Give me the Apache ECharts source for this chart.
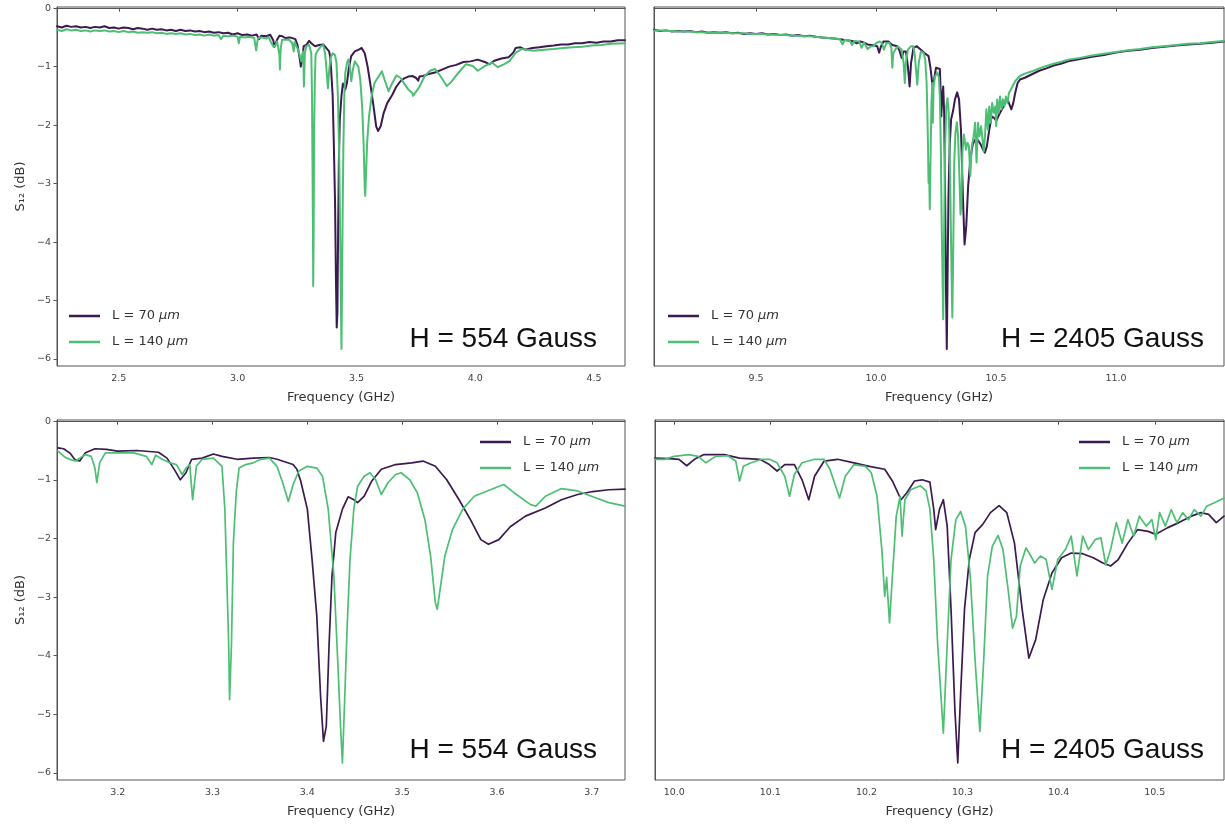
<!DOCTYPE html>
<html><head><meta charset="utf-8">
<script src="https://cdn.jsdelivr.net/npm/echarts@6/dist/echarts.min.js"></script>
<style>html,body{margin:0;padding:0;background:#fff}#c{width:1225px;height:824px}</style>
</head><body><div id="c"></div>
<script>
// ---------- labels ----------
const seriesNames = ['L = 70 μm', 'L = 140 μm'];
const fieldLabels = ['H = 554 Gauss', 'H = 2405 Gauss'];
const xAxisTitle = 'Frequency (GHz)';
const yAxisTitle = 'S₁₂ (dB)';

// ---------- tick values ----------
const yTicks = [0, -1, -2, -3, -4, -5, -6];
const xTicksTL = [2.5, 3.0, 3.5, 4.0, 4.5];
const xTicksTR = [9.5, 10.0, 10.5, 11.0];
const xTicksBL = [3.2, 3.3, 3.4, 3.5, 3.6, 3.7];
const xTicksBR = [10.0, 10.1, 10.2, 10.3, 10.4, 10.5];

// ---------- H = 554 G, zoomed region (3.136 - 3.735 GHz) ----------
const zoom554_70 = [
[3.137,-0.455],[3.143,-0.47],[3.150,-0.55],[3.155,-0.66],[3.160,-0.68],[3.166,-0.54],[3.176,-0.47],[3.188,-0.48],[3.200,-0.51],
[3.220,-0.50],[3.243,-0.53],[3.252,-0.63],[3.260,-0.83],[3.266,-1.00],[3.272,-0.88],[3.278,-0.65],[3.289,-0.63],[3.301,-0.56],
[3.310,-0.60],[3.326,-0.65],[3.343,-0.63],[3.360,-0.62],[3.368,-0.65],[3.385,-0.74],[3.389,-0.82],[3.393,-1.02],[3.400,-1.50],
[3.405,-2.36],[3.410,-3.33],[3.414,-4.70],[3.417,-5.46],[3.420,-5.20],[3.423,-3.78],[3.426,-2.64],[3.430,-1.90],[3.437,-1.50],
[3.443,-1.29],[3.449,-1.34],[3.453,-1.39],[3.460,-1.28],[3.468,-1.02],[3.478,-0.82],[3.493,-0.74],[3.510,-0.71],[3.522,-0.68],
[3.535,-0.77],[3.547,-1.00],[3.560,-1.34],[3.572,-1.68],[3.583,-2.02],[3.591,-2.10],[3.602,-2.02],[3.614,-1.80],[3.630,-1.62],
[3.651,-1.48],[3.668,-1.34],[3.685,-1.25],[3.701,-1.20],[3.718,-1.17],[3.735,-1.16]
];
const zoom554_140 = [
[3.137,-0.51],[3.145,-0.62],[3.151,-0.66],[3.156,-0.68],[3.160,-0.63],[3.166,-0.57],[3.172,-0.60],[3.176,-0.80],[3.178,-1.05],
[3.181,-0.71],[3.187,-0.54],[3.200,-0.54],[3.217,-0.54],[3.230,-0.60],[3.236,-0.74],[3.240,-0.58],[3.247,-0.65],[3.255,-0.71],
[3.262,-0.74],[3.268,-0.91],[3.272,-0.80],[3.276,-0.74],[3.279,-1.34],[3.283,-0.77],[3.289,-0.65],[3.301,-0.63],[3.310,-0.77],
[3.313,-1.50],[3.315,-2.64],[3.317,-3.78],[3.318,-4.75],[3.320,-3.80],[3.322,-2.08],[3.325,-1.22],[3.328,-0.80],[3.335,-0.74],
[3.343,-0.71],[3.351,-0.65],[3.360,-0.63],[3.368,-0.77],[3.374,-1.05],[3.380,-1.37],[3.385,-1.08],[3.391,-0.85],[3.400,-0.77],
[3.410,-0.80],[3.416,-0.94],[3.422,-1.50],[3.428,-2.64],[3.432,-4.07],[3.435,-5.20],[3.437,-5.83],[3.439,-4.92],[3.442,-3.50],
[3.445,-2.36],[3.449,-1.50],[3.453,-1.11],[3.460,-0.94],[3.466,-0.88],[3.472,-1.00],[3.478,-1.25],[3.485,-1.05],[3.493,-0.91],
[3.499,-0.88],[3.508,-1.00],[3.516,-1.22],[3.524,-1.68],[3.530,-2.30],[3.535,-3.10],[3.537,-3.21],[3.540,-2.87],[3.545,-2.30],
[3.553,-1.85],[3.564,-1.50],[3.576,-1.28],[3.593,-1.17],[3.607,-1.08],[3.618,-1.22],[3.635,-1.42],[3.641,-1.45],[3.651,-1.28],
[3.668,-1.15],[3.685,-1.19],[3.701,-1.29],[3.718,-1.39],[3.735,-1.45]
];
// ---------- H = 554 G, wide sweep outside the zoomed region ----------
const wide554Pre_70 = [
[2.24,-0.31],[2.26,-0.33],[2.28,-0.30],[2.30,-0.32],[2.32,-0.31],[2.34,-0.33],[2.36,-0.32],[2.38,-0.34],[2.40,-0.32],[2.42,-0.33],
[2.44,-0.31],[2.46,-0.34],[2.48,-0.33],[2.50,-0.35],[2.52,-0.33],[2.54,-0.34],[2.56,-0.36],[2.58,-0.34],[2.60,-0.35],[2.62,-0.37],
[2.64,-0.35],[2.66,-0.37],[2.68,-0.36],[2.70,-0.38],[2.72,-0.37],[2.74,-0.39],[2.76,-0.37],[2.78,-0.39],[2.80,-0.38],[2.82,-0.40],
[2.84,-0.39],[2.86,-0.41],[2.88,-0.40],[2.90,-0.42],[2.92,-0.41],[2.94,-0.43],[2.96,-0.42],[2.98,-0.45],[3.00,-0.43],[3.02,-0.46],
[3.04,-0.45],[3.06,-0.47],[3.08,-0.45],[3.09,-0.53],[3.10,-0.47],[3.12,-0.48]
];
const wide554Post_70 = [
[3.75,-1.19],[3.76,-1.24],[3.765,-1.17],[3.78,-1.16],[3.80,-1.13],[3.83,-1.10],[3.86,-1.05],[3.89,-1.00],[3.92,-0.97],[3.95,-0.92],
[3.98,-0.91],[4.01,-0.88],[4.04,-0.92],[4.06,-0.96],[4.08,-0.90],[4.11,-0.86],[4.14,-0.84],[4.16,-0.76],[4.17,-0.68],[4.19,-0.67],
[4.21,-0.71],[4.24,-0.68],[4.27,-0.67],[4.30,-0.65],[4.33,-0.64],[4.36,-0.62],[4.39,-0.62],[4.42,-0.60],[4.45,-0.60],[4.48,-0.58],
[4.51,-0.59],[4.54,-0.57],[4.57,-0.57],[4.60,-0.55],[4.63,-0.55]
];
const wide554Pre_140 = [
[2.24,-0.37],[2.26,-0.39],[2.28,-0.36],[2.30,-0.38],[2.32,-0.37],[2.34,-0.39],[2.36,-0.38],[2.38,-0.40],[2.40,-0.38],[2.42,-0.39],
[2.44,-0.38],[2.46,-0.40],[2.48,-0.39],[2.50,-0.41],[2.52,-0.39],[2.54,-0.41],[2.56,-0.40],[2.58,-0.42],[2.60,-0.41],[2.62,-0.42],
[2.64,-0.41],[2.66,-0.43],[2.68,-0.42],[2.70,-0.44],[2.72,-0.43],[2.74,-0.44],[2.76,-0.43],[2.78,-0.45],[2.80,-0.44],[2.82,-0.46],
[2.84,-0.45],[2.86,-0.47],[2.88,-0.45],[2.90,-0.47],[2.92,-0.46],[2.93,-0.53],[2.94,-0.47],[2.96,-0.48],[2.98,-0.47],[3.00,-0.49],
[3.005,-0.60],[3.01,-0.49],[3.03,-0.50],[3.05,-0.49],[3.07,-0.51],[3.078,-0.72],[3.085,-0.52],[3.10,-0.50],[3.12,-0.52],[3.13,-0.49]
];
const wide554Post_140 = [
[3.738,-1.50],[3.763,-1.36],[3.787,-1.16],[3.81,-1.07],[3.83,-1.04],[3.853,-1.16],[3.88,-1.33],[3.895,-1.28],[3.93,-1.10],[3.96,-0.96],
[3.99,-0.99],[4.01,-1.07],[4.04,-0.99],[4.07,-0.93],[4.095,-1.01],[4.12,-0.96],[4.145,-0.90],[4.17,-0.76],[4.195,-0.70],[4.244,-0.73],
[4.29,-0.71],[4.33,-0.70],[4.37,-0.68],[4.41,-0.67],[4.45,-0.66],[4.49,-0.64],[4.53,-0.63],[4.57,-0.61],[4.63,-0.60]
];

// ---------- H = 2405 G, zoomed region (9.98 - 10.572 GHz) ----------
const zoom2405_70 = [
[9.980,-0.63],[9.995,-0.64],[10.005,-0.65],[10.013,-0.76],[10.021,-0.65],[10.031,-0.57],[10.052,-0.57],[10.068,-0.63],[10.089,-0.65],
[10.099,-0.74],[10.107,-0.85],[10.115,-0.74],[10.125,-0.74],[10.133,-1.00],[10.140,-1.34],[10.146,-0.94],[10.156,-0.68],[10.170,-0.65],
[10.187,-0.71],[10.203,-0.77],[10.219,-0.82],[10.227,-1.02],[10.236,-1.34],[10.242,-1.22],[10.250,-1.02],[10.258,-1.00],[10.266,-1.04],
[10.270,-1.50],[10.272,-1.85],[10.276,-1.50],[10.280,-1.34],[10.284,-1.79],[10.288,-3.21],[10.292,-4.92],[10.295,-5.83],[10.298,-4.64],
[10.302,-3.21],[10.307,-2.36],[10.313,-1.90],[10.321,-1.76],[10.329,-1.56],[10.338,-1.44],[10.346,-1.56],[10.354,-2.08],[10.362,-3.21],
[10.369,-4.04],[10.376,-3.73],[10.384,-3.04],[10.393,-2.59],[10.403,-2.33],[10.413,-2.25],[10.425,-2.26],[10.436,-2.33],[10.446,-2.42],
[10.454,-2.47],[10.462,-2.36],[10.472,-2.08],[10.482,-1.85],[10.493,-1.88],[10.501,-1.93],[10.513,-1.82],[10.525,-1.73],[10.538,-1.62],
[10.548,-1.56],[10.556,-1.59],[10.564,-1.73],[10.572,-1.62]
];
const zoom2405_140 = [
[9.980,-0.65],[9.990,-0.65],[10.000,-0.60],[10.015,-0.57],[10.025,-0.60],[10.033,-0.71],[10.043,-0.60],[10.056,-0.59],[10.064,-0.68],
[10.068,-1.02],[10.072,-0.77],[10.080,-0.71],[10.091,-0.65],[10.099,-0.65],[10.107,-0.71],[10.115,-0.94],[10.120,-1.28],[10.125,-0.91],
[10.133,-0.71],[10.146,-0.65],[10.156,-0.65],[10.162,-0.82],[10.172,-1.31],[10.178,-0.94],[10.187,-0.74],[10.199,-0.77],[10.205,-0.88],
[10.211,-1.28],[10.216,-2.19],[10.219,-2.99],[10.221,-2.67],[10.224,-3.44],[10.227,-2.64],[10.231,-1.62],[10.235,-1.28],[10.237,-1.96],
[10.240,-1.34],[10.246,-1.17],[10.256,-1.10],[10.262,-1.19],[10.266,-1.50],[10.270,-2.36],[10.274,-3.78],[10.280,-5.32],[10.284,-3.80],
[10.288,-2.36],[10.293,-1.68],[10.298,-1.54],[10.303,-1.79],[10.308,-2.64],[10.313,-4.07],[10.318,-5.29],[10.322,-4.07],[10.326,-2.64],
[10.331,-2.13],[10.337,-1.95],[10.342,-2.19],[10.347,-2.82],[10.352,-3.53],[10.356,-3.33],[10.360,-2.47],[10.366,-2.16],[10.371,-2.30],
[10.375,-2.42],[10.381,-2.30],[10.387,-2.36],[10.393,-2.87],[10.399,-2.36],[10.407,-2.19],[10.413,-1.96],[10.419,-2.64],[10.425,-1.96],
[10.431,-2.19],[10.438,-2.02],[10.444,-1.99],[10.449,-2.45],[10.454,-2.19],[10.460,-1.73],[10.466,-2.08],[10.472,-1.68],[10.478,-1.96],
[10.484,-1.62],[10.491,-1.79],[10.497,-1.68],[10.501,-2.02],[10.505,-1.56],[10.511,-1.79],[10.517,-1.51],[10.523,-1.73],[10.529,-1.56],
[10.535,-1.68],[10.541,-1.51],[10.548,-1.62],[10.554,-1.45],[10.562,-1.39],[10.572,-1.31]
];
// ---------- H = 2405 G, wide sweep outside the zoomed region ----------
const wide2405Pre_70 = [
[9.075,-0.37],[9.10,-0.39],[9.125,-0.38],[9.15,-0.40],[9.175,-0.39],[9.20,-0.40],[9.225,-0.39],[9.25,-0.41],[9.275,-0.40],[9.30,-0.42],
[9.325,-0.41],[9.35,-0.42],[9.375,-0.41],[9.40,-0.43],[9.425,-0.42],[9.45,-0.44],[9.475,-0.43],[9.50,-0.44],[9.525,-0.43],[9.55,-0.45],
[9.575,-0.44],[9.60,-0.46],[9.625,-0.45],[9.65,-0.47],[9.675,-0.46],[9.70,-0.48],[9.725,-0.47],[9.75,-0.49],[9.775,-0.50],[9.80,-0.51],
[9.825,-0.52],[9.85,-0.53],[9.875,-0.55],[9.90,-0.56],[9.92,-0.60],[9.935,-0.57],[9.95,-0.59],[9.965,-0.62]
];
const wide2405Post_70 = [
[10.58,-1.45],[10.59,-1.28],[10.60,-1.22],[10.62,-1.19],[10.65,-1.13],[10.68,-1.07],[10.71,-1.03],[10.74,-0.98],[10.77,-0.95],
[10.80,-0.91],[10.85,-0.87],[10.90,-0.83],[10.95,-0.80],[11.00,-0.76],[11.05,-0.73],[11.10,-0.71],[11.15,-0.68],[11.20,-0.66],
[11.25,-0.64],[11.30,-0.62],[11.35,-0.61],[11.40,-0.59],[11.45,-0.57]
];
const wide2405Pre_140 = [
[9.075,-0.38],[9.10,-0.38],[9.125,-0.39],[9.15,-0.39],[9.175,-0.40],[9.20,-0.40],[9.225,-0.40],[9.25,-0.41],[9.275,-0.41],[9.30,-0.42],
[9.325,-0.42],[9.35,-0.42],[9.375,-0.42],[9.40,-0.43],[9.425,-0.43],[9.45,-0.43],[9.475,-0.44],[9.50,-0.44],[9.525,-0.44],[9.55,-0.45],
[9.575,-0.45],[9.60,-0.46],[9.625,-0.46],[9.65,-0.47],[9.675,-0.47],[9.70,-0.48],[9.725,-0.48],[9.75,-0.49],[9.775,-0.50],[9.80,-0.51],
[9.825,-0.52],[9.85,-0.53],[9.86,-0.62],[9.87,-0.54],[9.89,-0.55],[9.90,-0.63],[9.91,-0.56],[9.93,-0.57],[9.94,-0.68],[9.95,-0.59],
[9.965,-0.70]
];
const wide2405Post_140 = [
[10.58,-1.25],[10.59,-1.20],[10.60,-1.16],[10.62,-1.12],[10.65,-1.08],[10.68,-1.03],[10.71,-0.99],[10.74,-0.95],[10.77,-0.92],
[10.80,-0.88],[10.85,-0.85],[10.90,-0.81],[10.95,-0.78],[11.00,-0.75],[11.05,-0.72],[11.10,-0.70],[11.15,-0.67],[11.20,-0.65],
[11.25,-0.63],[11.30,-0.61],[11.35,-0.60],[11.40,-0.58],[11.45,-0.56]
];

// ---------- style ----------
const PURPLE = '#3b1a4f';
const GREEN = '#4dbf74';
const FONT = '"DejaVu Sans", sans-serif';

const wide554_70 = wide554Pre_70.concat(zoom554_70, wide554Post_70);
const wide554_140 = wide554Pre_140.concat(zoom554_140, wide554Post_140);
const wide2405_70 = wide2405Pre_70.concat(zoom2405_70, wide2405Post_70);
const wide2405_140 = wide2405Pre_140.concat(zoom2405_140, wide2405Post_140);

const grids = [
  {left: 57, top: 7, width: 568, height: 359},
  {left: 654, top: 7, width: 570, height: 359},
  {left: 57, top: 420, width: 568, height: 360},
  {left: 655, top: 420, width: 569, height: 360}
].map(g => Object.assign(g, {show: true, borderColor: '#555', borderWidth: 1, backgroundColor: 'transparent'}));

function xAxis(i, min, max, ticks) {
  return {
    type: 'value', gridIndex: i, min: min, max: max,
    name: xAxisTitle, nameLocation: 'middle', nameGap: 25,
    nameTextStyle: {fontFamily: FONT, fontSize: 13, color: '#333'},
    axisLine: {show: true, lineStyle: {color: '#555', width: 1}},
    axisTick: {show: true, length: 3.5, lineStyle: {color: '#555'}, customValues: ticks},
    axisLabel: {fontFamily: FONT, fontSize: 9.5, color: '#444', margin: 8, customValues: ticks,
      formatter: v => Number(v).toFixed(1)},
    splitLine: {show: false}
  };
}
function yAxis(i, showLabels) {
  return {
    type: 'value', gridIndex: i, min: -6.12, max: 0.02,
    name: showLabels ? yAxisTitle : '', nameLocation: 'middle', nameGap: 30, nameRotate: 90,
    nameTextStyle: {fontFamily: FONT, fontSize: 13, color: '#333'},
    axisLine: {show: true, lineStyle: {color: '#555', width: 1}},
    axisTick: {show: showLabels, length: 3.5, lineStyle: {color: '#555'}, customValues: yTicks},
    axisLabel: {show: showLabels, fontFamily: FONT, fontSize: 9.5, color: '#444', margin: 6, customValues: yTicks,
      formatter: v => (v < 0 ? '−' + Math.abs(v) : String(v))},
    splitLine: {show: false}
  };
}
function line(name, data, idx, color, width) {
  return {
    type: 'line', name: name, data: data, xAxisIndex: idx, yAxisIndex: idx,
    showSymbol: false, symbol: 'none', smooth: false,
    lineStyle: {color: color, width: width, join: 'round', cap: 'round'}, itemStyle: {color: color},
    emphasis: {disabled: true}, z: color === GREEN ? 3 : 2
  };
}
function legend(left, top) {
  return {
    data: seriesNames, orient: 'vertical', left: left, top: top, padding: 0,
    icon: 'rect', itemWidth: 31, itemHeight: 2.5, itemGap: 10,
    formatter: n => n.replace('μm', '{i|μm}'),
    textStyle: {fontFamily: FONT, fontSize: 13, color: '#333', lineHeight: 16, padding: [0, 0, 0, 7],
      rich: {i: {fontFamily: FONT, fontSize: 13, fontStyle: 'italic', color: '#333', lineHeight: 16}}},
    selectedMode: false
  };
}
function label(text, right, top) {
  return {type: 'text', right: right, top: top, silent: true,
    style: {text: text, font: '28px "Liberation Sans", Arial, sans-serif', fill: '#111'}};
}

const option = {
  animation: false,
  backgroundColor: '#fff',
  grid: grids,
  xAxis: [
    xAxis(0, 2.24, 4.63, xTicksTL),
    xAxis(1, 9.075, 11.45, xTicksTR),
    xAxis(2, 3.136, 3.735, xTicksBL),
    xAxis(3, 9.98, 10.572, xTicksBR)
  ],
  yAxis: [yAxis(0, true), yAxis(1, false), yAxis(2, true), yAxis(3, false)],
  legend: [legend(69, 308), legend(668, 308), legend(480, 434), legend(1079, 434)],
  series: [
    line(seriesNames[0], wide554_70, 0, PURPLE, 2),
    line(seriesNames[1], wide554_140, 0, GREEN, 2),
    line(seriesNames[0], wide2405_70, 1, PURPLE, 2),
    line(seriesNames[1], wide2405_140, 1, GREEN, 2),
    line(seriesNames[0], zoom554_70, 2, PURPLE, 1.7),
    line(seriesNames[1], zoom554_140, 2, GREEN, 1.7),
    line(seriesNames[0], zoom2405_70, 3, PURPLE, 1.7),
    line(seriesNames[1], zoom2405_140, 3, GREEN, 1.7)
  ],
  graphic: [
    label(fieldLabels[0], 628, 325),
    label(fieldLabels[1], 21, 325),
    label(fieldLabels[0], 628, 736),
    label(fieldLabels[1], 21, 736)
  ]
};
const chart = echarts.init(document.getElementById('c'), null, {renderer: 'canvas'});
chart.setOption(option);
</script></body></html>
